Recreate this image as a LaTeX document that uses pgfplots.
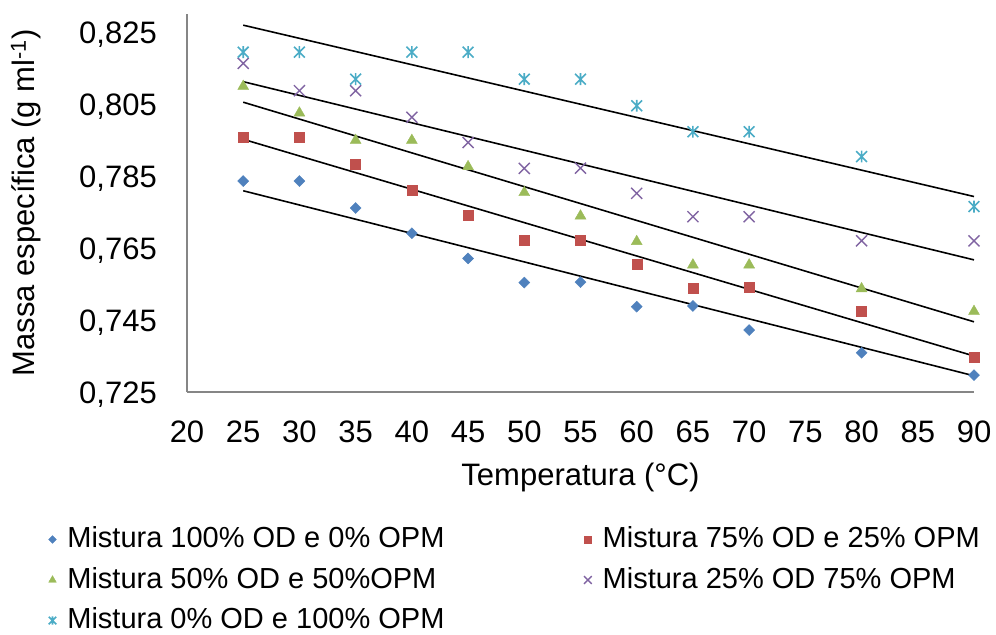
\documentclass[border=0pt]{standalone}
\usepackage{pgfplots}
\pgfplotsset{compat=1.18}
\usepackage{fontspec}
\setmainfont{Liberation Sans}
\definecolor{cblue}{HTML}{4F81BD}
\definecolor{cred}{HTML}{C0504D}
\definecolor{cgreen}{HTML}{9BBB59}
\definecolor{cpurple}{HTML}{8064A2}
\definecolor{ccyan}{HTML}{4BACC6}
\definecolor{axgray}{RGB}{134,134,134}
\pgfdeclareplotmark{xstar}{%
  \pgfpathmoveto{\pgfqpoint{-\pgfplotmarksize}{-\pgfplotmarksize}}%
  \pgfpathlineto{\pgfqpoint{\pgfplotmarksize}{\pgfplotmarksize}}%
  \pgfpathmoveto{\pgfqpoint{-\pgfplotmarksize}{\pgfplotmarksize}}%
  \pgfpathlineto{\pgfqpoint{\pgfplotmarksize}{-\pgfplotmarksize}}%
  \pgfpathmoveto{\pgfqpoint{0pt}{-1.1\pgfplotmarksize}}%
  \pgfpathlineto{\pgfqpoint{0pt}{1.1\pgfplotmarksize}}%
  \pgfusepathqstroke}
\begin{document}
\begin{tikzpicture}
\useasboundingbox (0,0) rectangle (996bp,635bp);
\begin{axis}[
  at={(187bp,243bp)}, anchor=south west,
  width=787bp, height=378bp, scale only axis,
  xmin=20, xmax=90, ymin=0.725, ymax=0.83,
  axis x line*=bottom, axis y line*=left,
  axis line style={axgray, line width=1.5bp},
  major tick length=0pt,
  xtick={20,25,...,90},
  ytick={0.725,0.745,0.765,0.785,0.805,0.825},
  yticklabels={{0,725},{0,745},{0,765},{0,785},{0,805},{0,825}},
  /pgf/number format/assume math mode=true,
  tick label style={font=\fontsize{31bp}{37bp}\selectfont, inner sep=0pt},
  yticklabel style={anchor=base east, xshift=-30bp, yshift=-11.1bp},
  xticklabel style={anchor=base, yshift=-50bp},
  xlabel={Temperatura (°C)},
  ylabel={Massa específica (g ml\textsuperscript{-1})},
  label style={font=\fontsize{31bp}{37bp}\selectfont, inner sep=0pt},
  xlabel style={at={(axis description cs:0.5,-0.24868)}, anchor=base},
  ylabel style={at={(axis description cs:-0.19314,0.5)}, anchor=base, rotate=0},
  clip=false,
  legend columns=2,
  legend cell align=left,
  legend style={draw=none, fill=none, inner sep=0pt, outer sep=0pt,
    at={(axis description cs:-0.1758,-0.3561)}, anchor=north west,
    font=\fontsize{29bp}{35bp}\selectfont,
    nodes={inner sep=0pt},
    row sep=18bp,
    /tikz/every odd column/.style={column sep=11bp},
    /tikz/every even column/.style={column sep=139.5bp}},
  legend image code/.code={\draw[#1, yshift=-1.7bp, scale=0.7] plot coordinates {(0bp,0bp)};},
]
\addplot[only marks, mark=square*, mark size=3.9bp, mark options={rotate=45, fill=cblue, draw=cblue}, color=cblue] coordinates {
(25,0.7836)(30,0.7836)(35,0.7761)(40,0.7691)(45,0.7621)(50,0.7554)(55,0.7555)(60,0.7487)(65,0.7489)(70,0.7422)(80,0.7359)(90,0.7297)};
\addlegendentry{Mistura 100\% OD e 0\% OPM}
\addplot[only marks, mark=square*, mark size=5bp, color=cred, mark options={fill=cred, draw=cred}] coordinates {
(25,0.7959)(30,0.7959)(35,0.7883)(40,0.7811)(45,0.7741)(50,0.7672)(55,0.7672)(60,0.7606)(65,0.7539)(70,0.7542)(80,0.7475)(90,0.7348)};
\addlegendentry{Mistura 75\% OD e 25\% OPM}
\addplot[only marks, mark=triangle*, mark size=6.3bp, color=cgreen, mark options={fill=cgreen, draw=cgreen}] coordinates {
(25,0.8099)(30,0.8025)(35,0.7949)(40,0.7949)(45,0.7876)(50,0.7804)(55,0.7739)(60,0.7668)(65,0.7603)(70,0.7603)(80,0.7537)(90,0.7474)};
\addlegendentry{Mistura 50\% OD e 50\%OPM}
\addplot[only marks, mark=x, mark size=7.8bp, color=cpurple, mark options={line width=1.4bp}] coordinates {
(25,0.8163)(30,0.8087)(35,0.8087)(40,0.8013)(45,0.7943)(50,0.7871)(55,0.7872)(60,0.7802)(65,0.7737)(70,0.7737)(80,0.7670)(90,0.7670)};
\addlegendentry{Mistura 25\% OD 75\% OPM}
\addplot[only marks, mark=xstar, mark size=5.4bp, color=ccyan, mark options={line width=1.6bp}] coordinates {
(25,0.8194)(30,0.8194)(35,0.8119)(40,0.8194)(45,0.8194)(50,0.8119)(55,0.8119)(60,0.8045)(65,0.7973)(70,0.7973)(80,0.7904)(90,0.7765)};
\addlegendentry{Mistura 0\% OD e 100\% OPM}
\addplot[black, line width=1.6bp, forget plot] coordinates {(25,0.8269)(90,0.7793)};
\addplot[black, line width=1.6bp, forget plot] coordinates {(25,0.8112)(90,0.7617)};
\addplot[black, line width=1.6bp, forget plot] coordinates {(25,0.8055)(90,0.7445)};
\addplot[black, line width=1.6bp, forget plot] coordinates {(25,0.7952)(90,0.7350)};
\addplot[black, line width=1.6bp, forget plot] coordinates {(25,0.7809)(90,0.7295)};
\end{axis}
\end{tikzpicture}
\end{document}
